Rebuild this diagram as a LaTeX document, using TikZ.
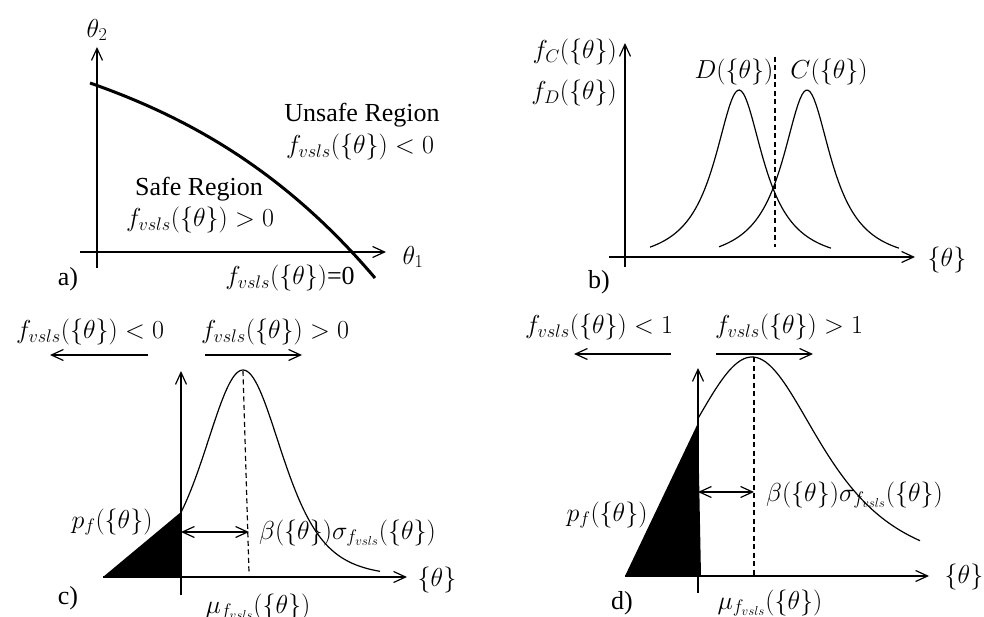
\RequirePackage{fix-cm}
\documentclass[tikz,border=0pt]{standalone}
\usepackage{fontspec}
\setmainfont{Liberation Serif}
\usetikzlibrary{arrows.meta}
\begin{document}
\begin{tikzpicture}[x=1pt,y=-1pt,
  every node/.style={font=\fontsize{26}{30}\selectfont, inner sep=0pt},
  ln/.style={line width=1.2pt},
  barb/.tip={Straight Barb[length=12pt,width=11pt,line width=1.2pt]},
  axis/.style={ln, -barb},
  dbl/.style={ln, barb-barb},
  dsh/.style={ln, dash pattern=on 5pt off 3.5pt},
  boldcurve/.style={line width=3pt},
  curve/.style={ln},
]
\useasboundingbox (0,0) rectangle (984,617);
\clip (0,0) rectangle (984,617);

% ---------- a) ----------
\coordinate (ayb) at (97,268); \coordinate (ayt) at (97,47);
\coordinate (axl) at (80,252); \coordinate (axr) at (386,252);
\draw[axis] (ayb) -- (ayt);
\draw[axis] (axl) -- (axr);
\node (ath2) at (97,30) {$\theta_2$};
\node (ath1) at (413,257) {$\theta_1$};
\coordinate (cs) at (90,83); \coordinate (ce) at (375,278);
\draw[boldcurve] (cs) .. controls (190,118) and (285,172) .. (ce);
\node (unsafe) at (362,115) {Unsafe Region};
\node (unsafef) at (360,147) {$f_{vsls}(\{\theta\})<0$};
\node (safe) at (199,189) {Safe Region};
\node (safef) at (200,220) {$f_{vsls}(\{\theta\})>0$};
\node (alab) at (68,279) {a)};
\node (limit) at (290,278) {$f_{vsls}(\{\theta\})$=0};

% ---------- b) ----------
\coordinate (byb) at (625,267); \coordinate (byt) at (625,43);
\coordinate (bxl) at (609,257); \coordinate (bxr) at (915,257);
\draw[axis] (byb) -- (byt);
\draw[axis] (bxl) -- (bxr);
\node[anchor=east] (fc) at (617,52) {$f_C(\{\theta\})$};
\node[anchor=east] (fd) at (617,93) {$f_D(\{\theta\})$};
\node (dlab) at (734,72) {$D(\{\theta\})$};
\node (clab) at (829,72) {$C(\{\theta\})$};
\node (bth) at (947,260) {$\{\theta\}$};
\node (blab) at (599,282) {b)};
\draw[curve] plot[domain=650:831,samples=90] (\x,{265-175/(1+((\x-739)/30)^2)});
\draw[curve] plot[domain=719:899,samples=90] (\x,{265-175/(1+((\x-807)/30)^2)});
\coordinate (bdt) at (775,57); \coordinate (bdb) at (775,247);
\draw[dsh] (bdt) -- (bdb);

% ---------- c) ----------
\coordinate (cyb) at (181,595); \coordinate (cyt) at (181,371);
\coordinate (cxl) at (103,577); \coordinate (cxr) at (407,577);
\fill (103,577) -- (181,577) -- (181,512) -- cycle;
\draw[axis] (cyb) -- (cyt);
\draw[axis] (cxl) -- (cxr);
\draw[curve] plot[domain=181:380,samples=100] (\x,{577-207/(1+((\x-243)/90)^2)^3});
\coordinate (cdt) at (243,371); \coordinate (cdb) at (249,573);
\draw[dsh] (cdt) -- (cdb);
\coordinate (cal) at (181,532); \coordinate (car) at (249,532);
\draw[dbl] (cal) -- (car);
\node[anchor=west] (cbeta) at (259,533) {$\beta(\{\theta\})\sigma_{f_{vsls}}(\{\theta\})$};
\node (cpf) at (112,522) {$p_f(\{\theta\})$};
\node (cth) at (437,580) {$\{\theta\}$};
\node (clabel) at (68,598) {c)};
\node[anchor=base] (cmu) at (258,613) {$\mu_{f_{vsls}}(\{\theta\})$};
\node (cneg) at (90,332) {$f_{vsls}(\{\theta\})<0$};
\node (cpos) at (275,332) {$f_{vsls}(\{\theta\})>0$};
\coordinate (cn1) at (148,355); \coordinate (cn2) at (50,355);
\coordinate (cp1) at (205,355); \coordinate (cp2) at (302,355);
\draw[axis] (cn1) -- (cn2);
\draw[axis] (cp1) -- (cp2);

% ---------- d) ----------
\coordinate (dyb) at (698,593); \coordinate (dyt) at (698,368);
\coordinate (dxl) at (625,576); \coordinate (dxr) at (929,576);
\fill (625,576) -- (701,576) -- (698,423) -- cycle;
\draw[axis] (dyb) -- (dyt);
\draw[axis] (dxl) -- (dxr);
\draw[curve] plot[domain=698:920,samples=100] (\x,{576-219/(1+((\x-752)/109)^2)^1.5});
\coordinate (ddt) at (754,357); \coordinate (ddb) at (754,577);
\draw[dsh] (ddt) -- (ddb);
\coordinate (dal) at (698,492); \coordinate (dar) at (754,492);
\draw[dbl] (dal) -- (dar);
\node[anchor=west] (dbeta) at (766,495) {$\beta(\{\theta\})\sigma_{f_{vsls}}(\{\theta\})$};
\node (dpf) at (607,515) {$p_f(\{\theta\})$};
\node (dth) at (964,577) {$\{\theta\}$};
\node (dlabel) at (622,603) {d)};
\node[anchor=base] (dmu) at (770,609) {$\mu_{f_{vsls}}(\{\theta\})$};
\node (dneg) at (599,327) {$f_{vsls}(\{\theta\})<1$};
\node (dpos) at (789,327) {$f_{vsls}(\{\theta\})>1$};
\coordinate (dn1) at (671,354); \coordinate (dn2) at (574,354);
\coordinate (dp1) at (716,354); \coordinate (dp2) at (813,354);
\draw[axis] (dn1) -- (dn2);
\draw[axis] (dp1) -- (dp2);
\end{tikzpicture}
\end{document}
